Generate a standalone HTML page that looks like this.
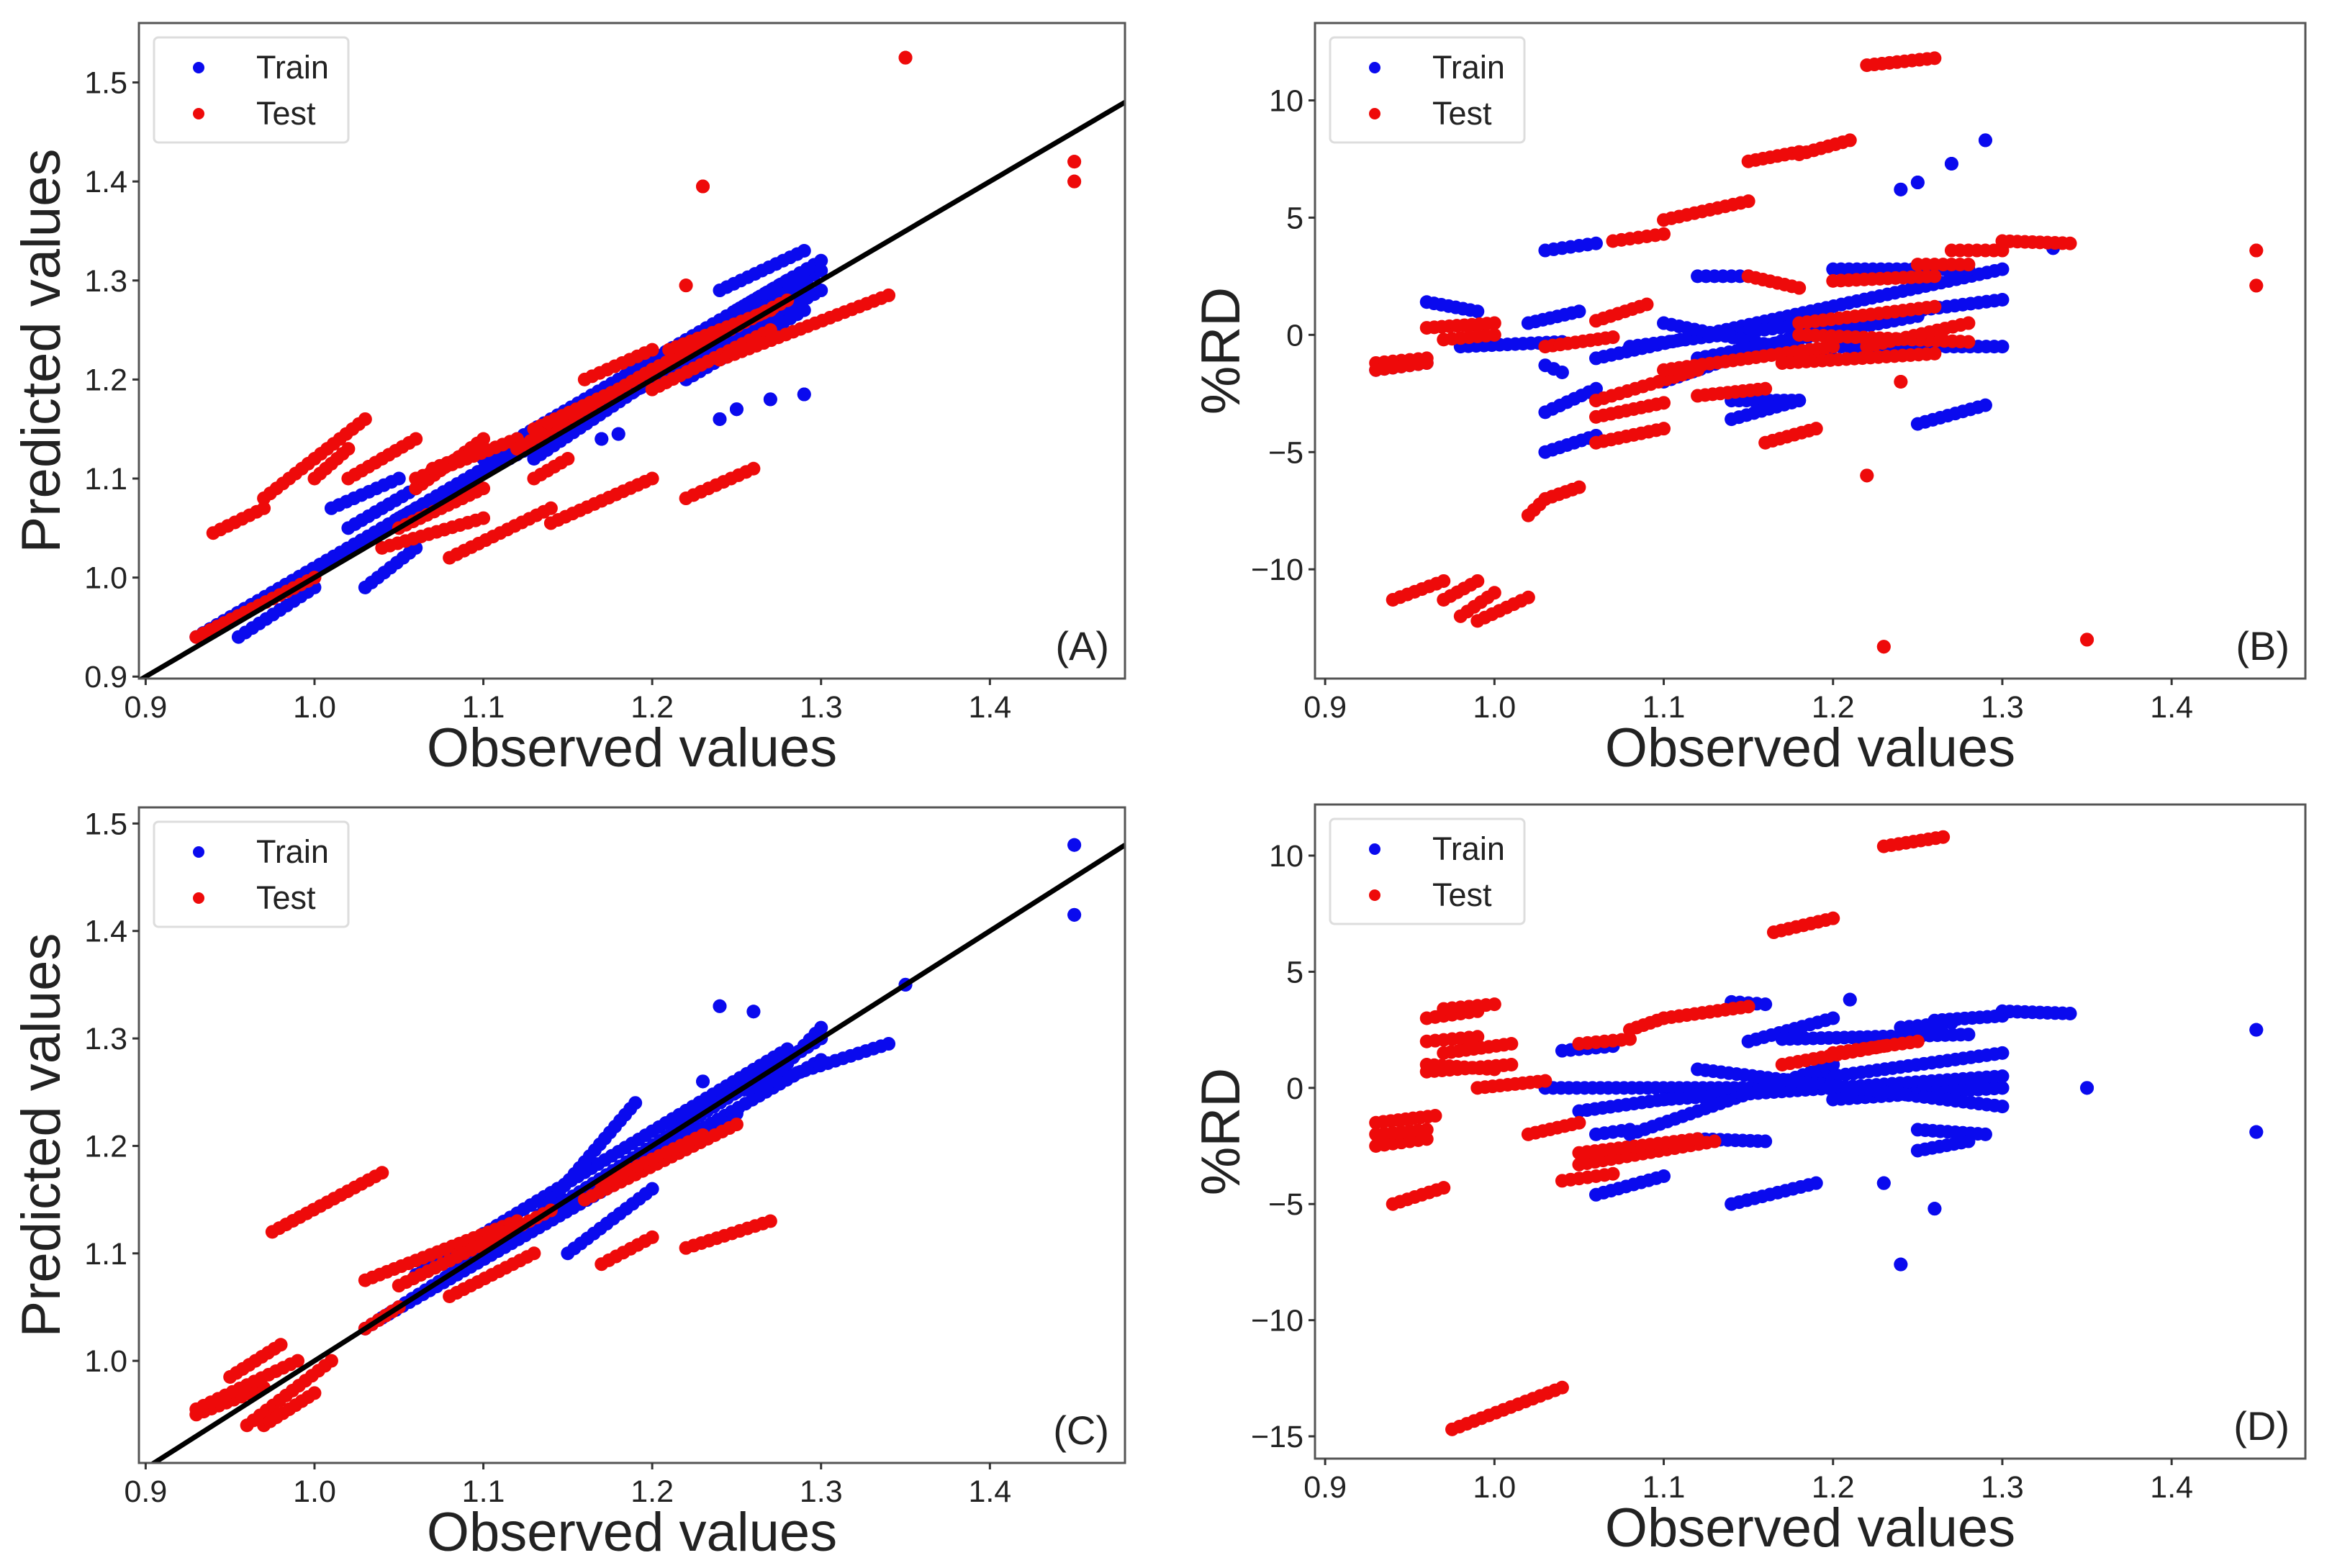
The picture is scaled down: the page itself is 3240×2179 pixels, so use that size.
<!DOCTYPE html>
<html><head><meta charset="utf-8"><style>
html,body{margin:0;padding:0;background:#fff}
svg{display:block}
text{font-family:"Liberation Sans",sans-serif;fill:#222}
</style></head><body>
<svg id="fig" width="3240" height="2179" xmlns="http://www.w3.org/2000/svg"></svg>
<script>
// Data: segments [x0,y0,x1,y1] of dense point runs (observed, value)
const aTrain=[[0.93,0.94,1.30,1.31],[0.94,0.945,1.29,1.30],[1.05,1.06,1.3,1.29],[1.1,1.12,1.28,1.3],[0.955,0.94,1.0,0.99],[1.03,0.99,1.06,1.03],[1.01,1.07,1.05,1.10],[1.02,1.05,1.06,1.09],[1.13,1.12,1.2,1.2],[1.24,1.29,1.29,1.33],[1.25,1.27,1.30,1.32],[1.22,1.20,1.29,1.27],[1.15,1.15,1.2,1.22],[1.24,1.16,1.24,1.16],[1.25,1.17,1.25,1.17],[1.27,1.18,1.27,1.18],[1.29,1.185,1.29,1.185],[1.17,1.14,1.17,1.14],[1.18,1.145,1.18,1.145]];
const aTest=[[0.93,0.94,1.0,1.0],[0.94,1.045,0.97,1.07],[0.97,1.08,1.03,1.16],[1.0,1.10,1.02,1.13],[1.02,1.10,1.06,1.14],[1.06,1.09,1.10,1.14],[1.06,1.10,1.12,1.14],[1.07,1.11,1.1,1.13],[1.05,1.05,1.10,1.09],[1.12,1.13,1.2,1.21],[1.13,1.15,1.18,1.19],[1.16,1.2,1.2,1.23],[1.2,1.21,1.28,1.28],[1.2,1.19,1.27,1.25],[1.21,1.23,1.27,1.27],[1.24,1.22,1.34,1.285],[1.08,1.02,1.14,1.07],[1.14,1.055,1.2,1.1],[1.22,1.08,1.26,1.11],[1.04,1.03,1.1,1.06],[1.13,1.10,1.15,1.12],[1.35,1.525,1.35,1.525],[1.45,1.42,1.45,1.42],[1.45,1.40,1.45,1.40],[1.23,1.395,1.23,1.395],[1.22,1.295,1.22,1.295]];
const bTrain=[[0.93,-1.5,0.96,-1.2],[0.96,1.4,0.99,1.0],[0.98,-0.5,1.04,-0.3],[1.03,3.6,1.06,3.9],[1.02,0.5,1.05,1.0],[1.03,-1.3,1.04,-1.6],[1.03,-3.3,1.06,-2.3],[1.03,-5,1.06,-4.3],[1.06,-1,1.3,2.8],[1.08,-0.5,1.3,1.5],[1.1,0.5,1.2,-1],[1.1,-2,1.2,0.5],[1.2,-0.5,1.3,-0.5],[1.12,-1,1.25,0.8],[1.14,-2.8,1.18,-2.8],[1.14,-3.6,1.18,-2.8],[1.25,-3.8,1.29,-3],[1.12,2.5,1.15,2.5],[1.2,2.8,1.28,2.8],[1.24,6.2,1.24,6.2],[1.25,6.5,1.25,6.5],[1.27,7.3,1.27,7.3],[1.29,8.3,1.29,8.3],[1.33,3.7,1.33,3.7]];
const bTest=[[0.93,-1.2,0.96,-1.0],[0.93,-1.5,0.96,-1.2],[0.94,-11.3,0.97,-10.5],[0.97,-11.3,0.99,-10.5],[0.98,-12,1.0,-11],[0.99,-12.2,1.02,-11.2],[1.02,-7.7,1.03,-7],[1.03,-7,1.05,-6.5],[0.96,0.3,1.0,0.5],[0.97,-0.2,1.0,0],[1.03,-0.5,1.07,-0.1],[1.07,4.0,1.1,4.3],[1.1,4.9,1.15,5.7],[1.15,7.4,1.18,7.8],[1.18,7.7,1.21,8.3],[1.22,11.5,1.26,11.8],[1.06,0.6,1.09,1.3],[1.06,-2.8,1.12,-1.5],[1.06,-4.6,1.1,-4],[1.06,-3.5,1.1,-2.9],[1.1,-1.5,1.2,-0.5],[1.12,-2.6,1.16,-2.3],[1.15,2.5,1.18,2.0],[1.16,-4.6,1.19,-4],[1.18,0.5,1.26,1.2],[1.18,0,1.28,-0.3],[1.17,-1.2,1.26,-0.8],[1.2,2.3,1.26,2.5],[1.22,-0.5,1.28,0.5],[1.27,3.6,1.3,3.6],[1.3,4.0,1.34,3.9],[1.25,3.0,1.28,3.0],[1.23,-13.3,1.23,-13.3],[1.35,-13,1.35,-13],[1.22,-6,1.22,-6],[1.45,3.6,1.45,3.6],[1.45,2.1,1.45,2.1],[1.24,-2,1.24,-2]];
const cTrain=[[1.03,1.03,1.3,1.3],[1.06,1.08,1.28,1.29],[1.04,1.04,1.25,1.23],[1.08,1.08,1.3,1.28],[1.13,1.13,1.19,1.24],[1.25,1.25,1.34,1.295],[1.15,1.1,1.2,1.16],[1.27,1.26,1.3,1.31],[1.24,1.33,1.24,1.33],[1.26,1.325,1.26,1.325],[1.23,1.26,1.23,1.26],[1.45,1.48,1.45,1.48],[1.45,1.415,1.45,1.415],[1.35,1.35,1.35,1.35]];
const cTest=[[0.93,0.95,0.97,0.975],[0.93,0.955,0.99,1.0],[0.95,0.985,0.98,1.015],[0.96,0.94,1.01,1.0],[0.97,0.94,1.0,0.97],[0.975,1.12,1.04,1.175],[1.03,1.03,1.05,1.05],[1.03,1.075,1.12,1.13],[1.05,1.07,1.14,1.14],[1.08,1.06,1.13,1.1],[1.16,1.15,1.25,1.22],[1.17,1.165,1.23,1.21],[1.17,1.09,1.2,1.115],[1.22,1.105,1.27,1.13]];
const dTrain=[[1.03,0,1.3,0],[1.05,-1,1.3,1.5],[1.1,-0.5,1.3,0.5],[1.08,-2,1.2,1],[1.2,-0.5,1.3,0],[1.12,0.8,1.3,-0.8],[1.04,1.6,1.07,1.8],[1.06,-2,1.08,-1.8],[1.06,-4.6,1.1,-3.8],[1.14,-5,1.19,-4.1],[1.12,-2.2,1.16,-2.3],[1.14,3.7,1.16,3.6],[1.15,2,1.2,3],[1.17,2.1,1.28,2.3],[1.24,2.6,1.27,2.8],[1.26,2.9,1.3,3.1],[1.3,3.3,1.34,3.2],[1.25,-1.8,1.29,-2],[1.25,-2.7,1.28,-2.3],[1.45,2.5,1.45,2.5],[1.45,-1.9,1.45,-1.9],[1.35,0,1.35,0],[1.24,-7.6,1.24,-7.6],[1.26,-5.2,1.26,-5.2],[1.23,-4.1,1.23,-4.1],[1.21,3.8,1.21,3.8]];
const dTest=[[0.93,-2.5,0.96,-2.2],[0.93,-1.5,0.965,-1.2],[0.93,-2,0.96,-1.8],[0.94,-5,0.97,-4.3],[0.96,3,0.99,3.3],[0.97,3.4,1.0,3.6],[0.96,2,0.99,2.2],[0.97,1.5,1.01,1.9],[0.96,1,1.0,0.8],[0.96,0.7,1.01,1],[0.99,0,1.03,0.3],[0.975,-14.7,1.04,-12.9],[1.02,-2,1.05,-1.5],[1.04,-4,1.07,-3.7],[1.05,-3.3,1.13,-2.3],[1.05,-2.8,1.12,-2.2],[1.05,1.9,1.08,2.1],[1.08,2.5,1.1,3],[1.1,3.0,1.15,3.5],[1.17,1,1.23,1.8],[1.2,1.5,1.25,2.0],[1.165,6.7,1.2,7.3],[1.23,10.4,1.265,10.8]];
const xTicks=[0.9,1.0,1.1,1.2,1.3,1.4];
const yTicksA=[0.9,1.0,1.1,1.2,1.3,1.4,1.5];
const yTicksB=[-10,-5,0,5,10];
const yTicksC=[1.0,1.1,1.2,1.3,1.4,1.5];
const yTicksD=[-15,-10,-5,0,5,10];

const NS="http://www.w3.org/2000/svg";
const svg=document.getElementById('fig');
function el(t,a,p){const e=document.createElementNS(NS,t);for(const k in a)e.setAttribute(k,a[k]);(p||svg).appendChild(e);return e;}
function fmt(v,dec){return dec?v.toFixed(1):String(v).replace('-','\u2212');}

function panel(o){
  const g=el('g',{});
  
  
  const sx=v=>o.x0+(v-o.xmin)/(o.xmax-o.xmin)*(o.x1-o.x0);
  const sy=v=>o.y1-(v-o.ymin)/(o.ymax-o.ymin)*(o.y1-o.y0);
  const cp='clip'+o.id;
  const cl=el('clipPath',{id:cp},g);el('rect',{x:o.x0,y:o.y0,width:o.x1-o.x0,height:o.y1-o.y0},cl);
  const pts=el('g',{'clip-path':'url(#'+cp+')'},g);
  function series(data,color,name){
    const sg=el('g',{fill:color},pts);
    
    
    data.forEach(s=>{
      const X0=sx(s[0]),Y0=sy(s[1]),X1=sx(s[2]),Y1=sy(s[3]);
      const n=Math.max(1,Math.round(Math.hypot(X1-X0,Y1-Y0)/11));
      for(let i=0;i<=n;i++){const t=n?i/n:0;
        const c=el('circle',{cx:X0+(X1-X0)*t,cy:Y0+(Y1-Y0)*t,r:9.5},sg);
        
        }
    });
  }
  series(o.train,'#0a0aee','train-points');
  series(o.test,'#ee0a0a','test-points');
  if(o.diag){const l=el('line',{x1:sx(o.xmin),y1:sy(o.xmin),x2:sx(o.xmax),y2:sy(o.xmax),stroke:'#000','stroke-width':7},pts);
    
    }
  const fr=el('rect',{x:o.x0,y:o.y0,width:o.x1-o.x0,height:o.y1-o.y0,fill:'none',stroke:'#555','stroke-width':3},g);
  
  
  xTicks.forEach(v=>{const X=sx(v);el('line',{x1:X,x2:X,y1:o.y1,y2:o.y1+9,stroke:'#333','stroke-width':3},g);
    const t=el('text',{x:X,y:o.y1+54,'text-anchor':'middle','font-size':43},g);t.textContent=v.toFixed(1);
    
    });
  o.yt.forEach(v=>{const Y=sy(v);el('line',{x1:o.x0-9,x2:o.x0,y1:Y,y2:Y,stroke:'#333','stroke-width':3},g);
    const t=el('text',{x:o.x0-16,y:Y+15,'text-anchor':'end','font-size':43},g);t.textContent=fmt(v,o.dec);
    
    });
  const xl=el('text',{x:(o.x0+o.x1)/2,y:o.y1+122,'text-anchor':'middle','font-size':76},g);xl.textContent='Observed values';
  
  
  const yc=(o.y0+o.y1)/2, yx=o.dec?o.x0-110:o.x0-105;
  const yl=el('text',{x:yx,y:yc,'text-anchor':'middle','font-size':76,transform:`rotate(-90 ${yx} ${yc})`},g);yl.textContent=o.ylab;
  
  
  const pl=el('text',{x:o.x1-22,y:o.y1-26,'text-anchor':'end','font-size':56},g);pl.textContent='('+o.id+')';
  
  
  const lg=el('g',{},g);
  
  
  const lx=o.x0+21,ly=o.y0+20;
  el('rect',{x:lx,y:ly,width:270,height:146,rx:6,fill:'#fff',stroke:'#ddd','stroke-width':3},lg);
  [['Train','#0a0aee',42],['Test','#ee0a0a',106]].forEach(([n,c,dy])=>{
    el('circle',{cx:lx+62,cy:ly+dy,r:8,fill:c},lg);
    const t=el('text',{x:lx+142,y:ly+dy+15,'font-size':45},lg);t.textContent=n;
    
    
  });
}
panel({id:'A',x0:193,x1:1563,y0:32,y1:943,xmin:0.896,xmax:1.48,ymin:0.898,ymax:1.56,train:aTrain,test:aTest,diag:true,yt:yTicksA,dec:true,ylab:'Predicted values'});
panel({id:'B',x0:1827,x1:3203,y0:32,y1:943,xmin:0.894,xmax:1.479,ymin:-14.66,ymax:13.3,train:bTrain,test:bTest,diag:false,yt:yTicksB,dec:false,ylab:'%RD'});
panel({id:'C',x0:193,x1:1563,y0:1122,y1:2033,xmin:0.896,xmax:1.48,ymin:0.905,ymax:1.515,train:cTrain,test:cTest,diag:true,yt:yTicksC,dec:true,ylab:'Predicted values'});
panel({id:'D',x0:1827,x1:3203,y0:1118,y1:2027,xmin:0.894,xmax:1.479,ymin:-15.96,ymax:12.2,train:dTrain,test:dTest,diag:false,yt:yTicksD,dec:false,ylab:'%RD'});
</script>
</body></html>
